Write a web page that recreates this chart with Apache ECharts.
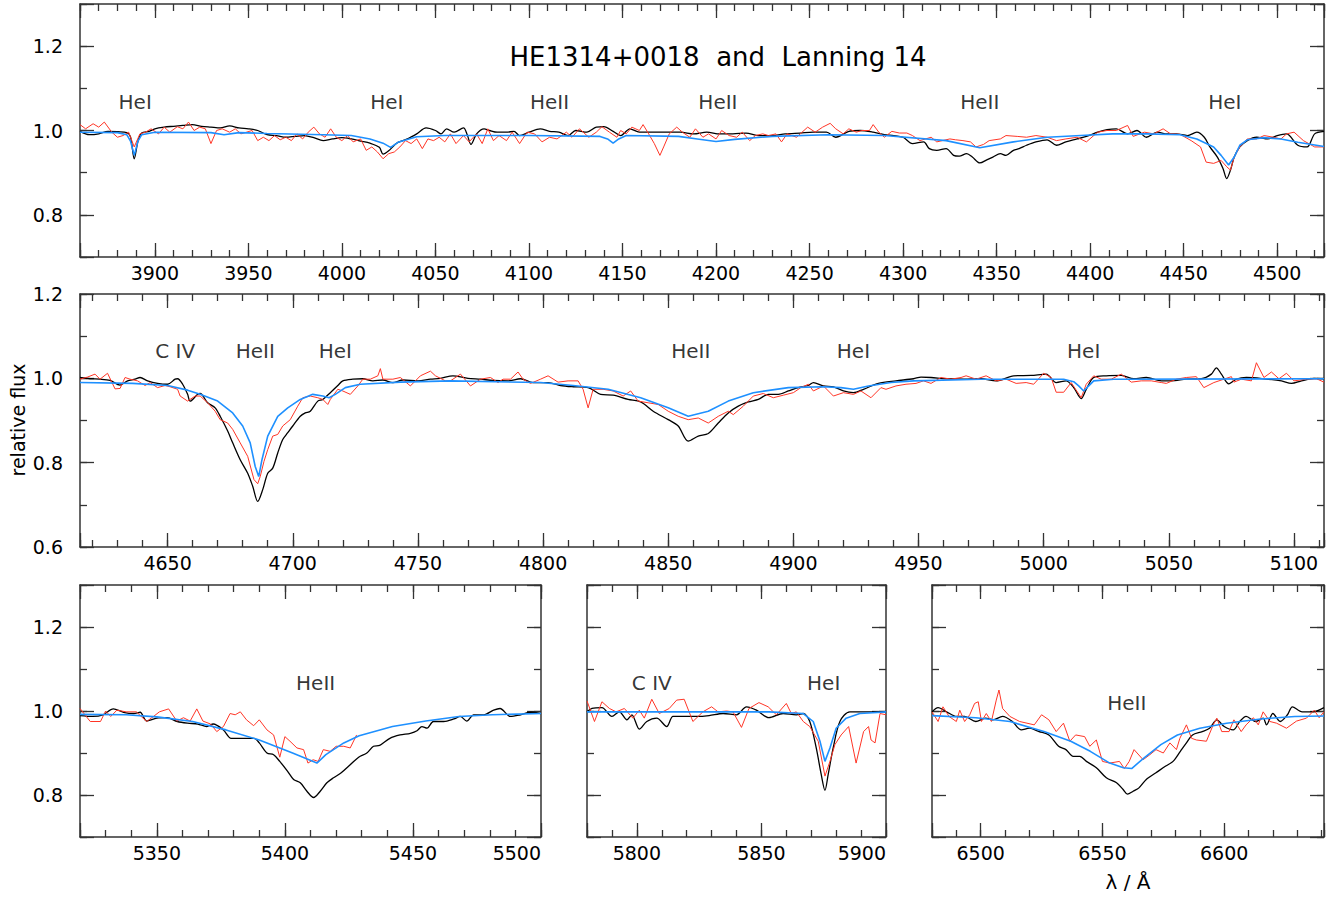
<!DOCTYPE html>
<html><head><meta charset="utf-8">
<script src="https://cdn.jsdelivr.net/npm/echarts@6/dist/echarts.min.js"></script>
<style>html,body{margin:0;padding:0;background:#fff}#c{width:1328px;height:897px}</style>
</head><body><div id="c"></div>
<script>
// ---------------- DATA (wavelength in Angstrom, relative flux) ----------------
const topBlack = [[3860,0.998],[3865,0.990],[3870,0.992],[3875,0.998],[3880,0.997],[3885,0.995],[3887,0.985],[3889,0.933],[3891,0.975],[3893,0.994],[3897,0.998],[3900,1.004],[3905,1.008],[3910,1.010],[3915,1.012],[3920,1.014],[3925,1.010],[3930,1.008],[3935,1.006],[3940,1.011],[3945,1.006],[3950,1.004],[3955,1.000],[3960,0.990],[3965,0.988],[3970,0.984],[3975,0.986],[3980,0.988],[3985,0.983],[3990,0.976],[3995,0.980],[4000,0.983],[4005,0.980],[4010,0.975],[4015,0.970],[4020,0.960],[4022,0.944],[4025,0.952],[4028,0.965],[4030,0.972],[4035,0.980],[4040,0.992],[4045,1.006],[4050,1.000],[4053,0.992],[4056,1.004],[4060,0.996],[4065,1.006],[4067,0.990],[4069,0.967],[4072,0.992],[4076,1.004],[4079,1.000],[4083,0.996],[4088,0.996],[4092,0.998],[4095,0.988],[4100,0.996],[4106,1.004],[4111,0.998],[4116,0.996],[4121,0.988],[4125,1.000],[4131,0.996],[4136,1.008],[4140,1.009],[4145,0.998],[4149,0.988],[4154,1.004],[4159,0.996],[4166,0.996],[4173,0.996],[4181,0.996],[4188,0.992],[4195,0.996],[4202,0.992],[4209,0.992],[4216,0.994],[4223,0.988],[4230,0.988],[4237,0.992],[4245,0.994],[4252,0.996],[4259,0.996],[4264,0.984],[4271,0.998],[4277,1.000],[4284,0.996],[4290,0.990],[4295,0.988],[4300,0.984],[4305,0.969],[4311,0.973],[4314,0.957],[4318,0.953],[4323,0.957],[4327,0.941],[4330,0.939],[4334,0.945],[4337,0.937],[4341,0.923],[4345,0.931],[4348,0.937],[4352,0.945],[4355,0.941],[4359,0.953],[4362,0.957],[4366,0.965],[4371,0.973],[4377,0.978],[4382,0.965],[4387,0.973],[4393,0.980],[4398,0.986],[4404,0.996],[4409,1.002],[4414,1.004],[4420,0.992],[4425,1.000],[4430,0.984],[4436,0.996],[4441,0.992],[4446,0.992],[4452,0.988],[4457,0.996],[4461,0.984],[4464,0.961],[4468,0.937],[4471,0.910],[4473,0.886],[4475,0.906],[4477,0.937],[4480,0.961],[4484,0.976],[4489,0.984],[4495,0.980],[4500,0.988],[4505,0.992],[4511,0.965],[4516,0.961],[4520,0.992],[4525,0.998]];
const topRed = [[3860,1.014],[3863,1.004],[3867,1.016],[3870,1.008],[3873,1.020],[3877,0.996],[3880,0.984],[3883,0.988],[3886,0.996],[3889,0.961],[3892,0.992],[3895,0.996],[3898,1.004],[3902,0.992],[3905,1.008],[3908,0.996],[3912,1.009],[3915,1.004],[3918,1.020],[3921,1.000],[3924,1.008],[3927,1.004],[3930,0.969],[3933,1.000],[3936,1.004],[3940,0.996],[3943,1.004],[3946,0.992],[3949,0.996],[3952,1.000],[3955,0.976],[3958,0.984],[3961,0.976],[3964,0.988],[3967,0.978],[3970,0.984],[3973,0.976],[3976,0.992],[3979,0.980],[3982,0.996],[3985,1.008],[3988,0.992],[3991,0.984],[3994,1.004],[3997,0.984],[4000,0.976],[4003,0.988],[4006,0.973],[4010,0.980],[4013,0.953],[4016,0.961],[4019,0.949],[4022,0.933],[4025,0.945],[4028,0.949],[4031,0.961],[4034,0.976],[4037,0.969],[4040,0.980],[4043,0.957],[4046,0.980],[4049,0.976],[4052,0.984],[4055,0.973],[4058,0.992],[4061,0.969],[4065,0.988],[4068,0.973],[4072,0.992],[4075,0.969],[4078,1.004],[4081,0.976],[4084,0.988],[4088,0.976],[4091,0.996],[4095,0.969],[4099,0.996],[4103,0.992],[4107,0.973],[4111,0.984],[4115,0.980],[4120,0.996],[4123,0.984],[4127,1.004],[4132,0.984],[4136,0.996],[4139,1.009],[4143,0.996],[4147,0.984],[4149,1.000],[4152,0.992],[4155,1.008],[4159,1.000],[4161,1.014],[4164,0.992],[4167,0.969],[4170,0.941],[4172,0.961],[4175,0.992],[4179,1.008],[4182,0.996],[4186,0.984],[4189,1.004],[4193,0.984],[4196,0.992],[4200,0.980],[4203,1.000],[4207,0.988],[4211,0.984],[4214,0.996],[4218,0.976],[4221,0.988],[4225,0.992],[4228,0.988],[4232,0.992],[4235,0.973],[4238,0.992],[4243,0.984],[4246,0.996],[4249,1.008],[4253,0.996],[4257,1.008],[4261,1.017],[4264,1.004],[4268,0.992],[4271,1.004],[4275,0.996],[4278,1.000],[4282,1.000],[4284,1.014],[4287,0.996],[4290,0.984],[4294,0.998],[4298,0.994],[4302,0.994],[4305,0.988],[4309,0.976],[4312,0.980],[4315,0.984],[4318,0.973],[4321,0.976],[4325,0.980],[4328,0.978],[4332,0.976],[4336,0.973],[4339,0.961],[4343,0.967],[4346,0.976],[4352,0.980],[4355,0.988],[4361,0.986],[4366,0.984],[4371,0.988],[4377,0.984],[4382,0.976],[4387,0.980],[4393,0.984],[4398,0.973],[4404,0.996],[4409,1.000],[4414,1.000],[4420,1.012],[4423,0.986],[4429,0.996],[4434,0.992],[4439,1.004],[4443,0.992],[4448,0.991],[4454,0.976],[4459,0.961],[4462,0.925],[4466,0.922],[4470,0.929],[4473,0.914],[4475,0.906],[4477,0.937],[4480,0.961],[4484,0.980],[4489,0.980],[4493,0.988],[4498,0.984],[4502,0.980],[4505,0.992],[4509,0.996],[4514,0.976],[4520,0.961],[4525,0.961]];
const topBlue = [[3860,0.996],[3880,0.995],[3885,0.990],[3887,0.975],[3889,0.941],[3891,0.975],[3893,0.990],[3900,0.996],[3930,0.995],[3937,0.990],[3945,0.995],[3960,0.993],[3990,0.990],[4005,0.988],[4015,0.980],[4022,0.970],[4026,0.960],[4030,0.972],[4040,0.985],[4055,0.988],[4100,0.988],[4138,0.986],[4142,0.980],[4145,0.970],[4148,0.980],[4152,0.988],[4180,0.986],[4190,0.980],[4200,0.974],[4210,0.979],[4230,0.986],[4260,0.990],[4290,0.988],[4323,0.976],[4341,0.959],[4359,0.973],[4377,0.984],[4395,0.988],[4412,0.992],[4430,0.992],[4448,0.990],[4457,0.980],[4466,0.961],[4470,0.941],[4474,0.918],[4477,0.937],[4480,0.965],[4484,0.978],[4493,0.983],[4502,0.980],[4511,0.972],[4525,0.962]];

const midBlack = [[4615,1.002],[4619,0.999],[4623,0.998],[4627,0.995],[4631,0.984],[4634,0.994],[4637,0.998],[4639,1.002],[4642,0.994],[4646,0.988],[4650,0.986],[4653,0.998],[4654,0.999],[4656,0.986],[4658,0.962],[4659,0.946],[4662,0.962],[4663,0.964],[4666,0.942],[4669,0.930],[4671,0.910],[4674,0.875],[4676,0.847],[4679,0.807],[4682,0.775],[4684,0.744],[4686,0.708],[4688,0.736],[4690,0.775],[4692,0.787],[4694,0.823],[4696,0.855],[4698,0.871],[4700,0.887],[4703,0.910],[4705,0.918],[4707,0.922],[4710,0.946],[4712,0.950],[4715,0.966],[4718,0.983],[4720,0.994],[4724,0.998],[4728,0.999],[4732,0.994],[4736,0.996],[4740,0.990],[4744,0.996],[4750,0.994],[4755,0.998],[4759,1.000],[4764,1.006],[4770,1.000],[4775,0.998],[4780,0.995],[4786,0.994],[4791,0.999],[4796,0.990],[4802,0.990],[4807,0.983],[4812,0.980],[4818,0.978],[4823,0.962],[4828,0.960],[4834,0.950],[4839,0.944],[4844,0.922],[4850,0.902],[4854,0.887],[4858,0.851],[4862,0.863],[4866,0.869],[4870,0.894],[4874,0.918],[4878,0.934],[4882,0.944],[4886,0.950],[4890,0.962],[4894,0.962],[4898,0.970],[4902,0.978],[4906,0.983],[4908,0.990],[4912,0.982],[4916,0.980],[4920,0.970],[4924,0.966],[4928,0.974],[4934,0.988],[4941,0.994],[4948,0.999],[4951,1.003],[4955,1.002],[4961,0.999],[4968,0.998],[4975,0.999],[4981,0.994],[4988,1.006],[4995,1.007],[5001,1.010],[5005,0.990],[5009,0.994],[5012,0.978],[5015,0.952],[5017,0.974],[5020,1.002],[5025,1.006],[5031,1.007],[5036,0.999],[5041,1.002],[5047,0.994],[5051,0.994],[5057,0.998],[5063,0.999],[5067,1.010],[5069,1.025],[5071,1.010],[5074,0.987],[5077,0.998],[5081,1.002],[5088,0.999],[5095,0.994],[5099,0.988],[5103,0.994],[5108,1.000],[5112,0.999]];
const midRed = [[4615,0.998],[4618,1.003],[4621,1.010],[4623,0.998],[4626,1.012],[4629,0.975],[4631,0.976],[4633,1.002],[4635,0.998],[4638,0.994],[4641,0.983],[4643,0.990],[4646,0.978],[4649,0.983],[4651,0.980],[4654,0.974],[4655,0.958],[4658,0.946],[4661,0.958],[4663,0.958],[4666,0.942],[4669,0.922],[4671,0.902],[4674,0.894],[4676,0.879],[4679,0.847],[4682,0.815],[4684.5,0.760],[4686,0.750],[4687,0.767],[4688.5,0.803],[4690,0.831],[4692,0.863],[4694,0.867],[4696,0.887],[4699,0.902],[4702,0.934],[4704,0.954],[4707,0.958],[4710,0.954],[4712,0.950],[4714,0.938],[4715,0.950],[4718,0.974],[4720,0.970],[4723,0.962],[4726,0.982],[4728,0.998],[4731,0.998],[4734,1.006],[4735,1.023],[4736,0.998],[4740,0.998],[4743,1.002],[4747,0.982],[4751,1.006],[4755,1.017],[4757,1.006],[4761,0.994],[4763,0.994],[4767,1.010],[4771,0.982],[4775,0.998],[4779,1.002],[4782,0.990],[4784,0.998],[4787,0.998],[4790,1.015],[4792,0.998],[4795,0.988],[4799,0.998],[4802,1.006],[4806,0.991],[4810,0.994],[4814,0.994],[4816,0.974],[4818,0.930],[4820,0.974],[4824,0.974],[4828,0.970],[4832,0.958],[4835,0.970],[4838,0.946],[4842,0.942],[4846,0.938],[4850,0.922],[4854,0.910],[4858,0.902],[4862,0.906],[4866,0.894],[4870,0.910],[4874,0.922],[4876,0.914],[4880,0.934],[4884,0.958],[4888,0.964],[4892,0.954],[4896,0.960],[4900,0.966],[4903,0.978],[4906,0.986],[4908,0.970],[4912,0.982],[4916,0.958],[4920,0.966],[4924,0.962],[4927,0.970],[4931,0.954],[4935,0.978],[4937,0.974],[4941,0.982],[4945,0.986],[4949,0.988],[4952,0.994],[4955,0.988],[4959,1.002],[4963,0.998],[4967,1.002],[4969,1.006],[4973,0.998],[4977,1.006],[4981,0.994],[4985,0.998],[4989,0.988],[4993,0.990],[4996,0.986],[5000,1.012],[5003,1.002],[5005,0.967],[5008,0.967],[5011,0.990],[5015,0.954],[5017,0.986],[5020,1.006],[5023,0.998],[5027,0.998],[5031,1.010],[5035,0.991],[5039,0.994],[5043,0.994],[5047,0.990],[5049,0.988],[5053,0.998],[5057,1.002],[5061,1.004],[5064,0.978],[5068,0.990],[5072,0.998],[5075,1.004],[5076,0.991],[5079,0.998],[5083,0.994],[5085,1.037],[5088,1.002],[5091,1.015],[5094,0.999],[5097,1.012],[5100,0.994],[5105,0.998],[5109,0.999],[5112,0.991]];
const midBlue = [[4615,0.990],[4636,0.988],[4650,0.983],[4658,0.972],[4663,0.962],[4670,0.946],[4676,0.918],[4680,0.887],[4683,0.847],[4685,0.791],[4686.4,0.767],[4687.7,0.807],[4690,0.863],[4694,0.910],[4698,0.930],[4703,0.950],[4708,0.962],[4712,0.958],[4714.5,0.954],[4717,0.962],[4721,0.978],[4727,0.986],[4743,0.991],[4763,0.994],[4799,0.990],[4812,0.983],[4826,0.974],[4839,0.954],[4850,0.930],[4858,0.910],[4866,0.922],[4874,0.946],[4884,0.966],[4898,0.978],[4912,0.980],[4919,0.978],[4924,0.974],[4930,0.982],[4939,0.990],[4948,0.994],[4975,0.998],[5008,0.998],[5012,0.992],[5014,0.982],[5016,0.970],[5018,0.982],[5020,0.994],[5028,0.998],[5112,0.999]];

const blBlack = [[5320,0.989],[5325,0.987],[5329,0.991],[5333,1.005],[5337,0.997],[5341,0.994],[5343.5,0.997],[5346,0.976],[5350,0.983],[5354,0.984],[5358,0.975],[5362,0.971],[5366,0.969],[5369.5,0.963],[5372,0.969],[5376,0.955],[5379,0.935],[5383,0.935],[5388,0.935],[5390,0.924],[5393,0.900],[5395.6,0.896],[5398,0.880],[5401,0.857],[5403.4,0.837],[5406,0.829],[5408.6,0.809],[5411.2,0.794],[5413.8,0.809],[5416.4,0.829],[5419,0.841],[5422,0.853],[5425.5,0.872],[5428.8,0.890],[5432,0.900],[5434.6,0.916],[5437,0.918],[5441,0.935],[5445,0.943],[5449,0.947],[5451.6,0.953],[5453.5,0.963],[5455.5,0.959],[5458,0.975],[5462,0.975],[5466,0.981],[5468.5,0.987],[5471,0.976],[5473.7,0.991],[5477.6,0.991],[5481.5,1.002],[5484,1.006],[5488,0.987],[5492,0.991],[5496,0.997],[5500,0.994]];
const blRed = [[5320,1.006],[5324,0.975],[5328,0.975],[5330,1.000],[5332,0.987],[5334.4,1.002],[5338,0.998],[5342,0.998],[5346,0.975],[5348.7,0.987],[5351,0.998],[5354.6,1.005],[5357.8,0.976],[5360.4,0.984],[5363,0.976],[5365.6,1.005],[5368,0.976],[5371,0.969],[5373.4,0.951],[5376,0.963],[5378.6,0.994],[5380.6,0.991],[5382.6,0.998],[5385,0.979],[5387.8,0.965],[5390,0.979],[5393,0.955],[5395.6,0.943],[5398,0.890],[5400,0.939],[5402,0.928],[5404.7,0.912],[5407.3,0.908],[5409,0.876],[5411,0.884],[5413,0.880],[5415,0.908],[5417.7,0.904],[5420,0.916],[5423,0.916],[5425.5,0.912],[5428,0.943]];
const blBlue = [[5320,0.992],[5338,0.991],[5350,0.986],[5364,0.975],[5377,0.955],[5390,0.931],[5403,0.900],[5412.5,0.876],[5416,0.896],[5423,0.924],[5429,0.941],[5442,0.963],[5455,0.976],[5468,0.987],[5481,0.991],[5500,0.994]];

const bmBlack = [[5780,0.998],[5782,1.006],[5786,1.008],[5790,0.987],[5793,0.998],[5796,0.979],[5798,0.991],[5801,0.957],[5804,0.975],[5808,0.983],[5812,0.963],[5814.5,0.987],[5818.5,0.987],[5824,0.987],[5829,0.989],[5834.6,0.994],[5840,0.991],[5844,1.010],[5848,1.002],[5853,0.984],[5858.7,0.994],[5864,0.991],[5866.8,0.994],[5869.4,0.975],[5872,0.912],[5874,0.849],[5875.5,0.811],[5876.8,0.849],[5878.8,0.912],[5881.5,0.975],[5885.5,0.998],[5900,0.998]];
const bmRed = [[5780,1.024],[5783,0.975],[5786,1.022],[5789,1.006],[5791.7,0.998],[5795,1.006],[5798.4,0.983],[5801,1.002],[5803,0.983],[5806,1.028],[5809,0.994],[5813,1.006],[5816,1.026],[5819,1.028],[5822.5,0.975],[5826.5,0.998],[5830,1.010],[5832.6,0.998],[5836,1.000],[5838.6,0.998],[5842,0.961],[5845,1.006],[5849,1.020],[5852.7,1.010],[5856,0.991],[5860,1.018],[5862,0.994],[5864,0.998],[5866.8,0.975],[5869.4,0.963],[5872.8,0.928],[5875.5,0.845],[5877.5,0.880],[5879.5,0.920],[5882,0.943],[5885,0.963],[5888,0.876],[5891,0.951],[5893,0.963],[5894,0.931],[5895.6,0.924],[5897.6,0.994],[5900,0.991]];
const bmBlue = [[5780,0.998],[5853,0.998],[5866.8,0.994],[5870.8,0.975],[5873.5,0.928],[5875.5,0.880],[5877.5,0.912],[5880,0.959],[5884,0.983],[5889.5,0.994],[5900,0.998]];

const brBlack = [[6480,0.998],[6482.5,1.008],[6486,0.998],[6490,0.987],[6493.4,0.987],[6498,0.975],[6502,0.983],[6505,0.979],[6509,0.987],[6513,0.975],[6516.7,0.955],[6520,0.959],[6524,0.951],[6528,0.943],[6532,0.916],[6535,0.908],[6538,0.892],[6540.7,0.892],[6543.4,0.880],[6547.5,0.865],[6551.6,0.841],[6555.8,0.829],[6558.5,0.813],[6560.3,0.802],[6562.6,0.809],[6565,0.817],[6568,0.837],[6572,0.853],[6576,0.869],[6579,0.880],[6582,0.904],[6584.5,0.924],[6587,0.943],[6591,0.951],[6594,0.959],[6597,0.979],[6600,0.963],[6603.7,0.955],[6606.4,0.975],[6609,0.987],[6613,0.975],[6616,0.983],[6617.4,0.967],[6620,0.994],[6623,0.975],[6626,0.991],[6628,1.010],[6632,0.998],[6636.6,0.998],[6641,1.008]];
const brRed = [[6480,0.998],[6482.5,0.975],[6484.5,1.010],[6487,0.987],[6490,0.975],[6491.4,1.002],[6493.4,0.975],[6495.5,0.991],[6497.5,1.018],[6499,1.022],[6500.3,0.975],[6502.3,0.994],[6504.4,0.975],[6506.4,1.026],[6507.5,1.050],[6509,1.006],[6512,0.987],[6516,0.975],[6519,0.971],[6522,0.967],[6525,0.991],[6528,0.979],[6531,0.951],[6534,0.971],[6536.6,0.928],[6539,0.943],[6542.7,0.939],[6544.8,0.916],[6547.5,0.931],[6550,0.880],[6553,0.876],[6557,0.880],[6559,0.863],[6561,0.880],[6563,0.908],[6566.7,0.884],[6569.5,0.896],[6572,0.908],[6575,0.900],[6577.7,0.924],[6580.4,0.908],[6581.8,0.935],[6584.5,0.967],[6586.6,0.935],[6588.6,0.931],[6592.7,0.928],[6595.5,0.967],[6597,0.983],[6599,0.951],[6602,0.951],[6604,0.979],[6607,0.951],[6609,0.967],[6612,0.984],[6614,0.967],[6616,0.998],[6618.8,0.975],[6621.5,0.971],[6625.6,0.959],[6629.7,0.976],[6633.8,0.983],[6637,1.002],[6639,0.984],[6641,0.998]];
const brBlue = [[6480,0.989],[6498,0.984],[6512,0.975],[6526,0.951],[6537,0.928],[6545,0.904],[6553,0.876],[6558.6,0.865],[6562,0.863],[6567,0.888],[6574,0.920],[6580.8,0.943],[6590,0.959],[6601,0.971],[6615,0.981],[6629,0.987],[6641,0.988]];

// line identifications: [text, wavelength, flux position]
const topLabels = [['HeI',3889.5,1.067],['HeI',4024,1.067],['HeII',4111,1.067],['HeII',4201,1.067],['HeII',4341,1.067],['HeI',4472,1.067]];
const midLabels = [['C IV',4653,1.066],['HeII',4685,1.066],['HeI',4717,1.066],['HeII',4859,1.066],['HeI',4924,1.066],['HeI',5016,1.066]];
const blLabels = [['HeII',5412,1.067]];
const bmLabels = [['C IV',5806,1.067],['HeI',5875,1.067]];
const brLabels = [['HeII',6560,1.019]];

const titleText = 'HE1314+0018  and  Lanning 14';
const yTitle = 'relative flux';
const xTitle = 'λ / Å';

// ---------------- LAYOUT ----------------
const FONT = 'DejaVu Sans';
const FRAME = '#333';
const panels = [
  {grid:{left:80,top:4,width:1244,height:253}, x:[3860,4525], y:[0.7,1.3], yLab:true, split:13, alignMax:false, black:topBlack, red:topRed, blue:topBlue, labels:topLabels},
  {grid:{left:80,top:294,width:1244,height:253}, x:[4615,5112], y:[0.6,1.2], yLab:true, split:10, alignMax:false, black:midBlack, red:midRed, blue:midBlue, labels:midLabels},
  {grid:{left:80,top:585,width:461,height:252}, x:[5320,5500], y:[0.7,1.3], yLab:true, split:4, alignMax:true, black:blBlack, red:blRed, blue:blBlue, labels:blLabels},
  {grid:{left:587,top:585,width:299,height:252}, x:[5780,5900], y:[0.7,1.3], yLab:false, split:3, alignMax:true, black:bmBlack, red:bmRed, blue:bmBlue, labels:bmLabels},
  {grid:{left:932,top:585,width:392,height:252}, x:[6480,6641], y:[0.7,1.3], yLab:false, split:3, alignMax:false, black:brBlack, red:brRed, blue:brBlue, labels:brLabels}
];

const grids = [], xAxes = [], yAxes = [], series = [];
const tickStyle = {color:FRAME, width:1.3};
const xFmt = v => (Math.abs(v % 50) < 1e-6 ? String(v) : '');
const yFmt = v => (Math.abs(v * 5 - Math.round(v * 5)) < 1e-6 ? v.toFixed(1) : '');

panels.forEach((p, i) => {
  grids.push(Object.assign({containLabel:false}, p.grid));
  const xs = p.x[1] - p.x[0];
  const ys = p.y[1] - p.y[0];
  const bx = {type:'value', gridIndex:i, min:p.x[0], max:p.x[1], splitLine:{show:false}, minorTick:{show:false}};
  const by = {type:'value', gridIndex:i, min:p.y[0], max:p.y[1], splitLine:{show:false}, minorTick:{show:false}};
  const major = (b, pos, split, lab) => Object.assign({}, b, {
    position:pos, splitNumber:split,
    axisLine:{show:true, onZero:false, lineStyle:{color:FRAME, width:1.5}},
    axisTick:{show:true, inside:true, length:14, lineStyle:tickStyle},
    axisLabel:lab ? lab : {show:false}
  });
  const minor = (b, pos, split) => Object.assign({}, b, {
    position:pos, splitNumber:split,
    axisLine:{show:false, onZero:false},
    axisTick:{show:true, inside:true, length:7, lineStyle:tickStyle},
    axisLabel:{show:false}
  });
  const xLab = {show:true, inside:false, margin:6, color:'#000', fontSize:19, fontFamily:FONT, formatter:xFmt, showMinLabel:true, showMaxLabel:true};
  if (p.alignMax) xLab.alignMaxLabel = 'right';
  xAxes.push(major(bx, 'bottom', p.split, xLab));
  xAxes.push(minor(bx, 'bottom', Math.round(xs / 10)));
  xAxes.push(major(bx, 'top', p.split, null));
  xAxes.push(minor(bx, 'top', Math.round(xs / 10)));
  const yLab = p.yLab ? {show:true, margin:17, color:'#000', fontSize:19, fontFamily:FONT, formatter:yFmt, showMinLabel:true, showMaxLabel:true} : null;
  yAxes.push(major(by, 'left', 3, yLab));
  yAxes.push(minor(by, 'left', Math.round(ys / 0.1)));
  yAxes.push(major(by, 'right', 3, null));
  yAxes.push(minor(by, 'right', Math.round(ys / 0.1)));

  const lines = [
    ['obs1', p.black, '#000000', 1.3, 0.3],
    ['obs2', p.red, '#ff3526', 1.0, false],
    ['model', p.blue, '#1e90ff', 1.6, false]
  ];
  lines.forEach(([nm, d, col, w, sm]) => {
    series.push({
      type:'line', name:nm + i, xAxisIndex:4 * i, yAxisIndex:4 * i, data:d,
      showSymbol:false, symbol:'none', clip:true, silent:true, smooth:sm,
      lineStyle:{color:col, width:w}, itemStyle:{color:col}
    });
  });
  series.push({
    type:'scatter', xAxisIndex:4 * i, yAxisIndex:4 * i, silent:true,
    symbol:'circle', symbolSize:1, itemStyle:{color:'rgba(0,0,0,0)'},
    data:p.labels.map(l => ({name:l[0], value:[l[1], l[2]]})),
    label:{show:true, position:'inside', formatter:'{b}', color:'#000', fontSize:20, fontFamily:FONT},
    z:5
  });
});

const chart = echarts.init(document.getElementById('c'), null, {renderer:'svg', width:1328, height:897});
chart.setOption({
  animation:false,
  backgroundColor:'#fff',
  grid:grids, xAxis:xAxes, yAxis:yAxes, series:series,
  graphic:[
    {type:'text', x:718, y:57, style:{text:titleText, fontSize:26, fontFamily:FONT, fill:'#000', align:'center', verticalAlign:'middle'}},
    {type:'text', x:18, y:420, rotation:Math.PI / 2, style:{text:yTitle, fontSize:19, fontFamily:FONT, fill:'#000', align:'center', verticalAlign:'middle'}},
    {type:'text', x:1128, y:882, style:{text:xTitle, fontSize:20, fontFamily:FONT, fill:'#000', align:'center', verticalAlign:'middle'}}
  ]
});
</script></body></html>
